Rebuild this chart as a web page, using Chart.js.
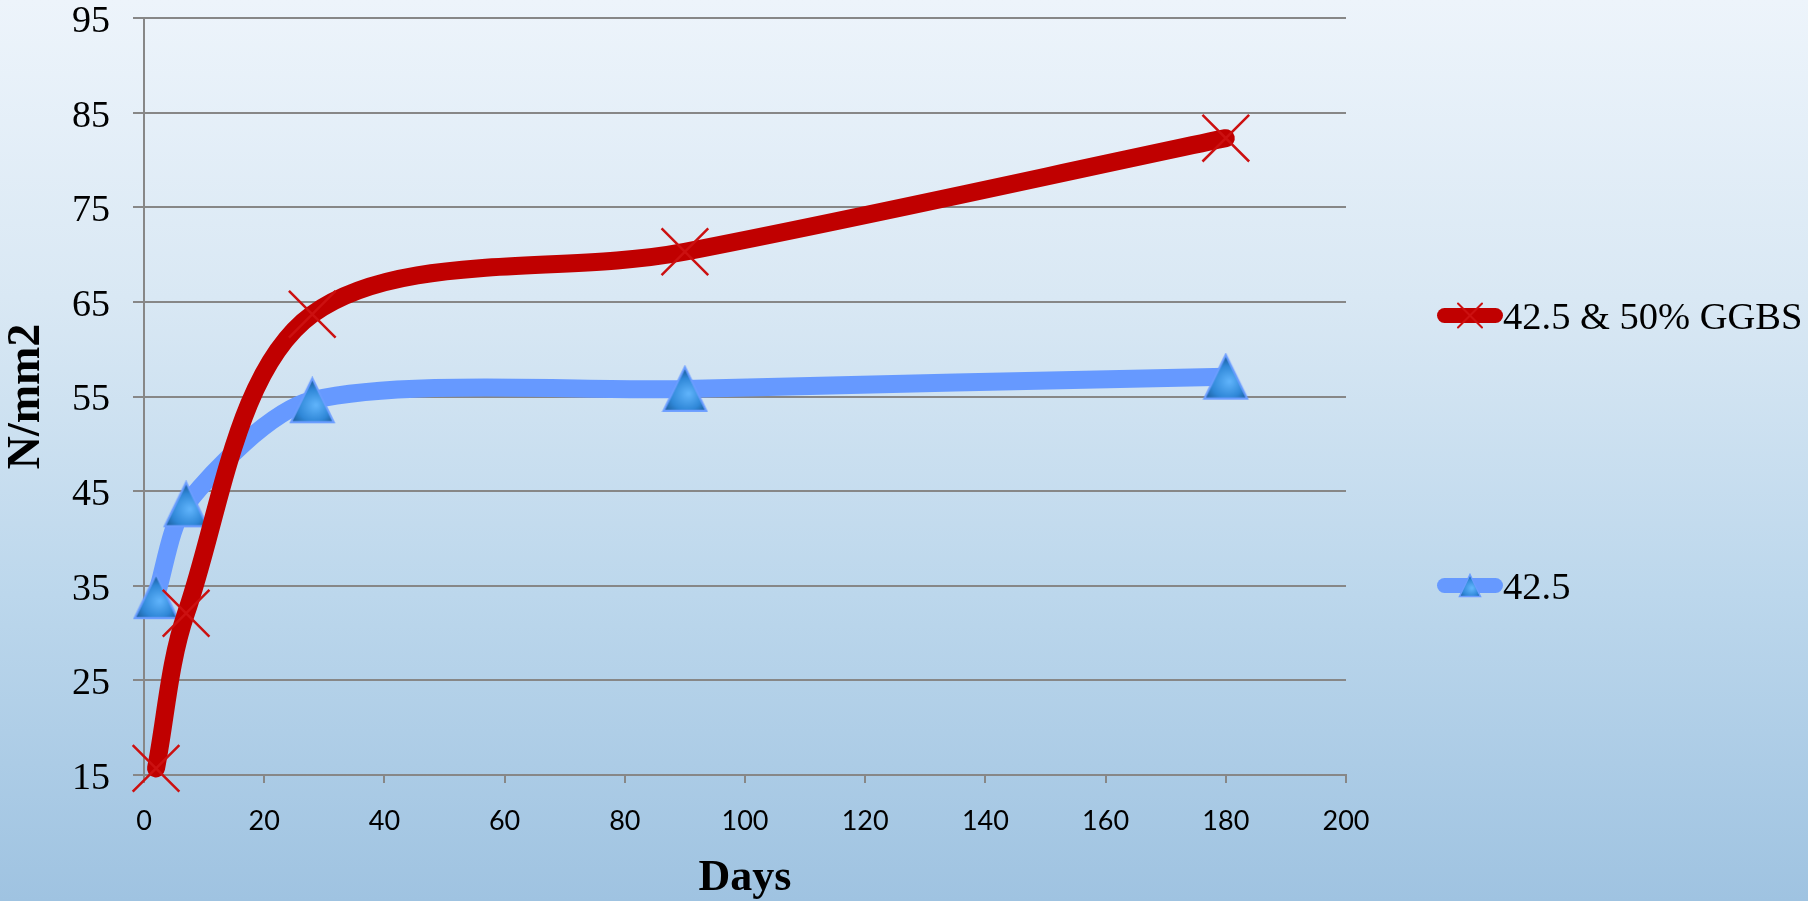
<!DOCTYPE html>
<html><head><meta charset="utf-8">
<script src="https://cdn.jsdelivr.net/npm/chart.js@4.4.1/dist/chart.umd.min.js"></script>
<style>
html,body{margin:0;padding:0;overflow:hidden;}
body{width:1808px;height:901px;background:linear-gradient(180deg,#edf4fb 0%,#d9e8f4 33%,#bcd7ec 66%,#9fc3e1 100%);}
canvas{display:block;}
</style></head><body>
<canvas id="c" width="1808" height="901"></canvas>
<script>
// ---- data ----
const days = [2, 7, 28, 90, 180];
const ggbsStrength = [15.7, 32.1, 63.7, 70.3, 82.3];
const plainStrength = [33.9, 43.6, 54.6, 55.8, 57.1];
const seriesLabels = ['42.5 & 50% GGBS', '42.5'];
const xTickValues = [0, 20, 40, 60, 80, 100, 120, 140, 160, 180, 200];
const yTickValues = [15, 25, 35, 45, 55, 65, 75, 85, 95];
const xAxisTitle = 'Days';
const yAxisTitle = 'N/mm2';

// ---- marker images ----
function makeTriangle(w, h) {
  const c = document.createElement('canvas'); c.width = w; c.height = h;
  const g = c.getContext('2d');
  const b = Math.max(1.5, w / 22);
  g.beginPath(); g.moveTo(w / 2, b); g.lineTo(w - b, h - b); g.lineTo(b, h - b); g.closePath();
  const grad = g.createRadialGradient(w * 0.58, h * 0.6, 1, w * 0.5, h * 0.62, w * 0.6);
  grad.addColorStop(0, '#5eb2fa'); grad.addColorStop(0.55, '#3088d8'); grad.addColorStop(1, '#14508a');
  g.fillStyle = grad; g.fill();
  g.lineJoin = 'miter'; g.lineWidth = b; g.strokeStyle = '#6b9dff'; g.stroke();
  return c;
}
const triBig = makeTriangle(47, 48);
const triSmall = makeTriangle(24, 25);

const pts = (xs, ys) => xs.map((x, i) => ({ x: x, y: ys[i] }));

const legendPlugin = {
  id: 'sideLegend',
  afterDraw(chart) {
    const ctx = chart.ctx, area = chart.chartArea;
    const x0 = area.right + 91, x1 = x0 + 66;
    const centers = [chart.height / 2 - 135, chart.height / 2 + 135];
    chart.data.datasets.forEach((ds, i) => {
      const y = centers[i];
      ctx.save();
      ctx.strokeStyle = ds.borderColor; ctx.lineWidth = 15; ctx.lineCap = 'round';
      ctx.beginPath(); ctx.moveTo(x0 + 7.5, y); ctx.lineTo(x1 - 7.5, y); ctx.stroke();
      const cx = (x0 + x1) / 2;
      if (ds.pointStyle === 'crossRot') {
        ctx.strokeStyle = ds.pointBorderColor; ctx.lineWidth = 2;
        ctx.beginPath();
        ctx.moveTo(cx - 12, y - 12); ctx.lineTo(cx + 12, y + 12);
        ctx.moveTo(cx + 12, y - 12); ctx.lineTo(cx - 12, y + 12);
        ctx.stroke();
      } else {
        ctx.drawImage(triSmall, cx - triSmall.width / 2, y - triSmall.height / 2);
      }
      ctx.fillStyle = '#000'; ctx.font = '38.5px "Liberation Serif"';
      ctx.textBaseline = 'middle'; ctx.textAlign = 'left';
      ctx.fillText(ds.label, x1, y + 3);
      ctx.restore();
    });
  }
};

const gridGray = '#878787';
new Chart(document.getElementById('c'), {
  type: 'line',
  data: {
    datasets: [
      {
        label: seriesLabels[0], data: pts(days, ggbsStrength),
        borderColor: '#c00000', borderWidth: 18, tension: 0.33,
        borderCapStyle: 'round', borderJoinStyle: 'round', clip: false,
        pointStyle: 'crossRot', pointRadius: 33, pointBorderColor: '#cc1010',
        pointBorderWidth: 2.5, pointBackgroundColor: 'rgba(0,0,0,0)'
      },
      {
        label: seriesLabels[1], data: pts(days, plainStrength),
        borderColor: '#6699ff', borderWidth: 18, tension: 0.27,
        borderCapStyle: 'round', borderJoinStyle: 'round', clip: false,
        pointStyle: triBig, pointRadius: 24
      }
    ]
  },
  options: {
    responsive: false, animation: false, devicePixelRatio: 1, events: [],
    layout: { autoPadding: false, padding: { left: 0, top: 18, right: 462, bottom: 0 } },
    plugins: { legend: { display: false }, tooltip: { enabled: false } },
    scales: {
      x: {
        type: 'linear', min: 0, max: 200,
        afterBuildTicks: s => { s.ticks = xTickValues.map(v => ({ value: v })); },
        grid: { drawOnChartArea: false, drawTicks: true, tickLength: 8, color: gridGray, lineWidth: 2 },
        border: { display: true, color: gridGray, width: 2 },
        ticks: { font: { family: 'Lato', size: 27 }, color: '#000', padding: 22, maxRotation: 0, autoSkip: false },
        title: { display: true, text: xAxisTitle, color: '#000',
          font: { family: '"Liberation Serif"', size: 44, weight: 'bold' }, padding: { top: 0, bottom: -4 } },
        afterFit: s => { s.height = 126; s.paddingLeft = 0; s.paddingRight = 0; }
      },
      y: {
        type: 'linear', min: 15, max: 95,
        afterBuildTicks: s => { s.ticks = yTickValues.map(v => ({ value: v })); },
        grid: { color: gridGray, lineWidth: 2, tickLength: 11, drawTicks: true },
        border: { display: true, color: gridGray, width: 2 },
        ticks: { font: { family: '"Liberation Serif"', size: 38 }, color: '#000', padding: 23, labelOffset: 4 },
        title: { display: true, text: yAxisTitle, color: '#000',
          font: { family: '"Liberation Serif"', size: 46, weight: 'bold' }, padding: { top: 0, bottom: 0 } },
        afterFit: s => { s.width = 144; s.paddingTop = 0; s.paddingBottom = 0; }
      }
    }
  },
  plugins: [legendPlugin]
});
</script>
</body></html>
